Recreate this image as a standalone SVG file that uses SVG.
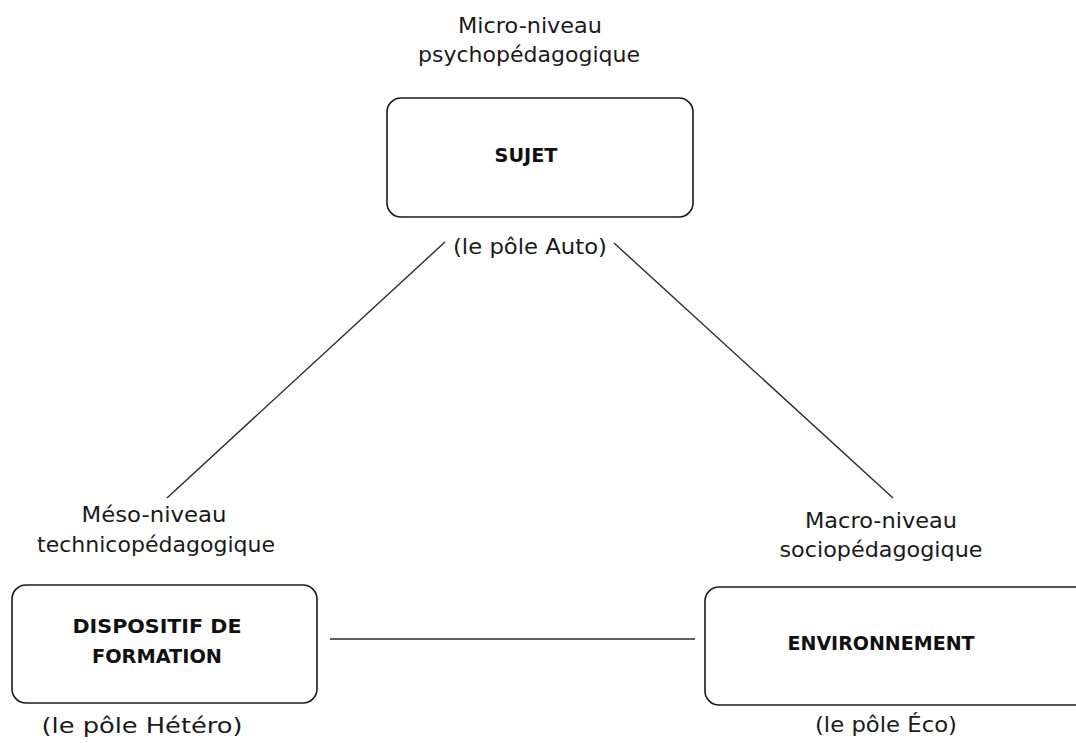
<svg xmlns="http://www.w3.org/2000/svg" width="1076" height="743" viewBox="0 0 1076 743">
  <style>
    .box { fill: #ffffff; stroke: #1a1a1a; stroke-width: 1.6; }
    .lbl { font-family: "DejaVu Sans", "Liberation Sans", sans-serif; font-size: 21px; fill: #1a1a1a; text-anchor: middle; }
    .ttl { font-family: "DejaVu Sans", "Liberation Sans", sans-serif; font-size: 19px; font-weight: bold; fill: #111111; text-anchor: middle; }
    .link { stroke: #2a2a2a; stroke-width: 1.4; fill: none; }
  </style>
  <rect width="1076" height="743" fill="#ffffff"/>

  <!-- connectors between the three poles -->
  <g id="connectors">
    <line class="link" x1="445" y1="242" x2="167" y2="498"/>
    <line class="link" x1="614" y1="243" x2="893" y2="498"/>
    <line class="link" x1="330" y1="639" x2="695" y2="639"/>
  </g>

  <!-- pole: SUJET -->
  <g id="sujet">
    <text class="lbl" x="530" y="33" textLength="144" lengthAdjust="spacingAndGlyphs">Micro-niveau</text>
    <text class="lbl" x="529" y="62" textLength="222" lengthAdjust="spacingAndGlyphs">psychopédagogique</text>
    <rect class="box" x="387" y="98" width="306" height="119" rx="14" ry="14"/>
    <text class="ttl" x="526" y="162" textLength="63" lengthAdjust="spacingAndGlyphs">SUJET</text>
    <text class="lbl" x="530" y="254" textLength="154" lengthAdjust="spacingAndGlyphs">(le pôle Auto)</text>
  </g>

  <!-- pole: DISPOSITIF DE FORMATION -->
  <g id="dispositif">
    <text class="lbl" x="154" y="522" textLength="145" lengthAdjust="spacingAndGlyphs">Méso-niveau</text>
    <text class="lbl" x="156" y="552" textLength="238" lengthAdjust="spacingAndGlyphs">technicopédagogique</text>
    <rect class="box" x="12" y="585" width="305" height="118" rx="14" ry="14"/>
    <text class="ttl" x="157" y="633" textLength="169" lengthAdjust="spacingAndGlyphs">DISPOSITIF DE</text>
    <text class="ttl" x="157" y="663" textLength="130" lengthAdjust="spacingAndGlyphs">FORMATION</text>
    <text class="lbl" x="142" y="733" textLength="201" lengthAdjust="spacingAndGlyphs">(le pôle Hétéro)</text>
  </g>

  <!-- pole: ENVIRONNEMENT -->
  <g id="environnement">
    <text class="lbl" x="881" y="528" textLength="152" lengthAdjust="spacingAndGlyphs">Macro-niveau</text>
    <text class="lbl" x="881" y="557" textLength="203" lengthAdjust="spacingAndGlyphs">sociopédagogique</text>
    <rect class="box" x="705" y="587" width="385" height="118" rx="14" ry="14"/>
    <text class="ttl" x="881" y="650" textLength="187" lengthAdjust="spacingAndGlyphs">ENVIRONNEMENT</text>
    <text class="lbl" x="886" y="732" textLength="142" lengthAdjust="spacingAndGlyphs">(le pôle Éco)</text>
  </g>
</svg>
